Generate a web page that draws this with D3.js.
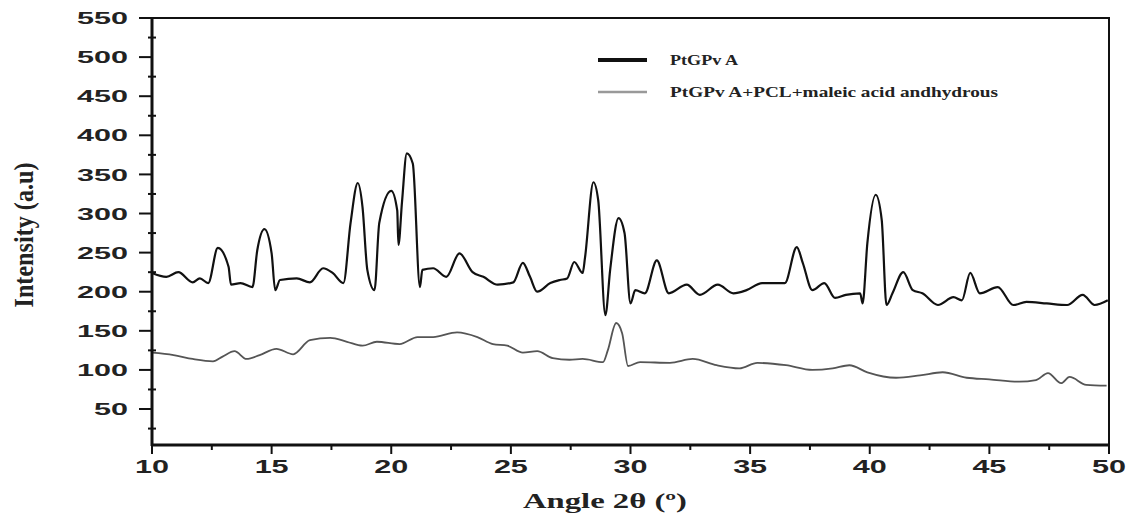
<!DOCTYPE html>
<html>
<head>
<meta charset="utf-8">
<script src="https://cdn.jsdelivr.net/npm/d3@7"></script>
<style>
  body { margin: 0; background: #fff; }
  svg { display: block; }
</style>
</head>
<body>
<div id="chart"></div>
<script>
// angle (2 theta), intensity
const pvaAngle = [10.0, 10.6, 11.1, 11.7, 12.0, 12.35, 12.75, 13.2, 13.3, 13.7, 14.2, 14.4, 14.7, 15.0, 15.15, 15.35,
  16.05, 16.6, 17.15, 17.55, 18.0, 18.3, 18.6, 18.8, 19.0, 19.3, 19.5, 20.0, 20.25, 20.3, 20.45, 20.65, 20.9, 21.2,
  21.3, 21.75, 22.3, 22.85, 23.4, 23.85, 24.45, 25.1, 25.5, 25.8, 26.1, 26.65, 27.05, 27.35, 27.65, 28.0, 28.1, 28.45,
  28.65, 28.95, 29.15, 29.5, 29.75, 30.0, 30.2, 30.6, 31.1, 31.6, 32.35, 32.9, 33.65, 34.3, 34.85, 35.5, 36.45, 36.95,
  37.2, 37.6, 38.1, 38.55, 39.0, 39.6, 39.7, 39.9, 40.25, 40.5, 40.7, 40.95, 41.4, 41.8, 42.2, 42.85, 43.5, 43.85,
  44.2, 44.6, 45.35, 46.0, 46.55, 47.4, 48.25, 48.9, 49.4, 49.95];
const pvaIntensity = [224, 219, 225, 212, 217, 211, 256, 232, 209, 211, 206, 253, 280, 249, 202, 215,
  217, 212, 230, 224, 211, 288, 339, 308, 228, 202, 288, 329, 304, 260, 315, 377, 364, 206,
  228, 230, 219, 249, 225, 219, 209, 212, 237, 219, 200, 211, 215, 217, 238, 224, 244, 340,
  317, 170, 228, 294, 275, 185, 202, 198, 240, 198, 209, 196, 209, 198, 202, 211, 211, 257,
  237, 202, 211, 192, 196, 198, 185, 262, 324, 292, 183, 198, 225, 202, 198, 183, 193, 189,
  224, 198, 206, 183, 187, 185, 183, 196, 183, 189];

const blendAngle = [10.0, 10.9, 11.7, 12.55, 12.95, 13.45, 13.95, 14.5, 15.2, 15.9, 16.6, 17.45, 18.15, 18.8, 19.4,
  20.35, 21.1, 21.75, 22.75, 23.6, 24.25, 24.85, 25.5, 26.1, 26.75, 27.45, 28.0, 28.85, 29.05, 29.4, 29.65, 29.9,
  30.4, 31.65, 32.6, 33.6, 34.55, 35.3, 36.5, 37.6, 38.45, 39.15, 39.9, 41.1, 42.1, 43.05, 44.05, 45.0, 46.25,
  46.95, 47.45, 48.0, 48.35, 49.05, 49.9];
const blendIntensity = [122, 119, 114, 111, 117, 124, 114, 119, 127, 120, 138, 141, 136, 131, 136,
  133, 142, 142, 148, 142, 133, 131, 122, 124, 115, 113, 114, 110, 125, 160, 147, 105,
  110, 109, 114, 106, 102, 109, 106, 100, 102, 106, 97, 90, 93, 97, 90, 88, 85,
  87, 96, 83, 91, 81, 80];

const xTicks = [10, 15, 20, 25, 30, 35, 40, 45, 50];
const yTicks = [50, 100, 150, 200, 250, 300, 350, 400, 450, 500, 550];
const seriesNames = ['PtGPv A', 'PtGPv A+PCL+maleic acid andhydrous'];

const width = 1133, height = 519;
const margin = { left: 152, right: 1109, top: 18, bottom: 445 };

const svg = d3.select('#chart').append('svg')
  .attr('width', width)
  .attr('height', height);

const x = d3.scaleLinear().domain([10, 50]).range([margin.left, margin.right]);
const y = d3.scaleLinear().domain([4, 550]).range([margin.bottom, margin.top]);

// frame (top and right)
svg.append('path')
  .attr('d', `M${margin.left},${margin.top}H${margin.right}V${margin.bottom}`)
  .attr('fill', 'none')
  .attr('stroke', '#111')
  .attr('stroke-width', 2);

// curves
const line = d3.line()
  .x(d => x(d[0]))
  .y(d => y(d[1]))
  .curve(d3.curveMonotoneX);

svg.append('path')
  .datum(d3.zip(blendAngle, blendIntensity))
  .attr('d', line)
  .attr('fill', 'none')
  .attr('stroke', '#555')
  .attr('stroke-width', 1.8);

svg.append('path')
  .datum(d3.zip(pvaAngle, pvaIntensity))
  .attr('d', line)
  .attr('fill', 'none')
  .attr('stroke', '#111')
  .attr('stroke-width', 2.2);

// y axis
const yAxis = svg.append('g').attr('transform', `translate(${margin.left},0)`);
yAxis.append('line')
  .attr('y1', margin.top - 1).attr('y2', margin.bottom + 1)
  .attr('stroke', '#111').attr('stroke-width', 3);
yAxis.selectAll('.major').data(yTicks).enter().append('line')
  .attr('x1', -13).attr('x2', 0)
  .attr('y1', d => y(d)).attr('y2', d => y(d))
  .attr('stroke', '#111').attr('stroke-width', 2);
yAxis.selectAll('.minor').data(d3.range(25, 550, 50)).enter().append('line')
  .attr('x1', -4).attr('x2', 4)
  .attr('y1', d => y(d)).attr('y2', d => y(d))
  .attr('stroke', '#111').attr('stroke-width', 2);
yAxis.selectAll('text').data(yTicks).enter().append('text')
  .attr('x', -24)
  .attr('y', d => y(d))
  .attr('dy', '0.36em')
  .attr('text-anchor', 'end')
  .attr('textLength', d => String(d).length * 17)
  .attr('lengthAdjust', 'spacingAndGlyphs')
  .style('font-family', '"Liberation Sans", Arial, sans-serif')
  .style('font-weight', 'bold')
  .style('font-size', '17px')
  .style('fill', '#222')
  .text(d => d);

// x axis
const xAxis = svg.append('g').attr('transform', `translate(0,${margin.bottom})`);
xAxis.append('line')
  .attr('x1', margin.left - 1).attr('x2', margin.right + 1)
  .attr('stroke', '#111').attr('stroke-width', 3);
xAxis.selectAll('.major').data(xTicks).enter().append('line')
  .attr('x1', d => x(d)).attr('x2', d => x(d))
  .attr('y1', 0).attr('y2', 9)
  .attr('stroke', '#111').attr('stroke-width', 2);
xAxis.selectAll('.minor').data(d3.range(12.5, 50, 5)).enter().append('line')
  .attr('x1', d => x(d)).attr('x2', d => x(d))
  .attr('y1', 0).attr('y2', 5)
  .attr('stroke', '#111').attr('stroke-width', 2);
xAxis.selectAll('text').data(xTicks).enter().append('text')
  .attr('x', d => x(d))
  .attr('y', 28)
  .attr('text-anchor', 'middle')
  .attr('textLength', d => String(d).length * 17)
  .attr('lengthAdjust', 'spacingAndGlyphs')
  .style('font-family', '"Liberation Sans", Arial, sans-serif')
  .style('font-weight', 'bold')
  .style('font-size', '18px')
  .style('fill', '#222')
  .text(d => d);

// axis titles
svg.append('text')
  .attr('transform', 'translate(33,235) rotate(-90)')
  .attr('text-anchor', 'middle')
  .attr('textLength', 145)
  .attr('lengthAdjust', 'spacingAndGlyphs')
  .style('font-family', '"Liberation Serif", "Times New Roman", serif')
  .style('font-weight', 'bold')
  .style('font-size', '27px')
  .style('fill', '#222')
  .text('Intensity (a.u)');

svg.append('text')
  .attr('x', 605)
  .attr('y', 508)
  .attr('text-anchor', 'middle')
  .attr('textLength', 164)
  .attr('lengthAdjust', 'spacingAndGlyphs')
  .style('font-family', '"Liberation Serif", "Times New Roman", serif')
  .style('font-weight', 'bold')
  .style('font-size', '22px')
  .style('fill', '#222')
  .text('Angle 2θ (º)');

// legend
const legend = svg.append('g');
const legendColors = ['#111', '#999'];
const legendWidths = [4, 2.5];
const legendText = [68, 328];
seriesNames.forEach((name, i) => {
  const ly = 60 + i * 32;
  legend.append('line')
    .attr('x1', 598).attr('x2', 647)
    .attr('y1', ly).attr('y2', ly)
    .attr('stroke', legendColors[i])
    .attr('stroke-width', legendWidths[i]);
  legend.append('text')
    .attr('x', 670)
    .attr('y', ly)
    .attr('dy', '0.35em')
    .attr('textLength', legendText[i])
    .attr('lengthAdjust', 'spacingAndGlyphs')
    .style('font-family', '"Liberation Serif", "Times New Roman", serif')
    .style('font-weight', 'bold')
    .style('font-size', '14px')
    .style('fill', '#222')
    .text(name);
});
</script>
</body>
</html>
